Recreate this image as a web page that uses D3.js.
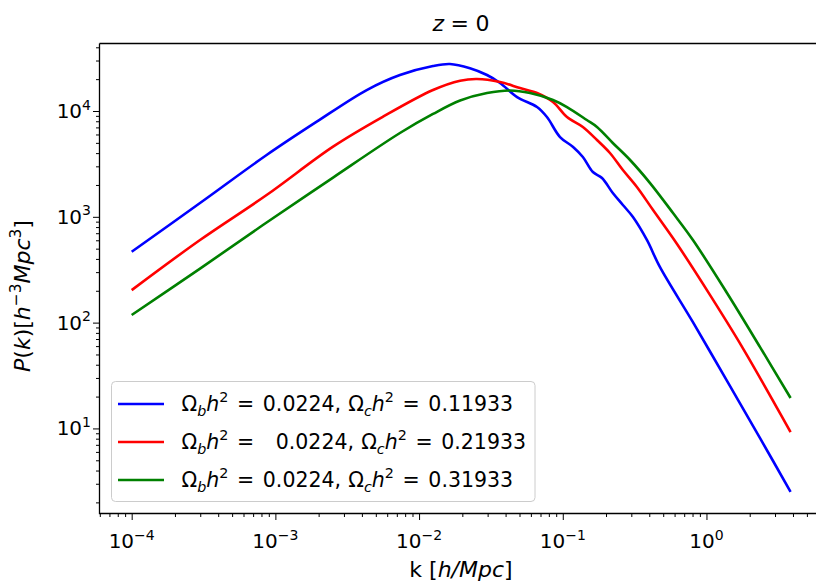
<!DOCTYPE html>
<html>
<head>
<meta charset="utf-8">
<script src="https://cdn.jsdelivr.net/npm/d3@7"></script>
<style>
    body { margin: 0; background: #fff; }
    svg { display: block; font-family: "DejaVu Sans", sans-serif; }
    .axis path { display: none; }
    .axis line { stroke: #000; stroke-width: 1; }
    .line { fill: none; stroke-width: 2.6; }
</style>
</head>
<body>
<div id="vis-container"></div>
<script>
// Values (k in h/Mpc, P in h^-3 Mpc^3)
var kBlue = [1.0e-4, 2.99e-4, 8.69e-4, 1.94e-3, 4.32e-3, 7.36e-3, 0.0125, 0.0164, 0.0226, 0.0297, 0.0366, 0.0481,
    0.0662, 0.0776, 0.0957, 0.118, 0.138, 0.162, 0.1875, 0.223, 0.262, 0.308, 0.385, 0.474, 0.805, 1.39, 2.36, 3.85];
var pBlue = [468, 1349, 3837, 7925, 15780, 21890, 26600, 27800, 25350, 21880, 18410, 13550,
    10910, 8770, 5675, 4571, 3673, 2649, 2328, 1679, 1294, 995, 604, 336, 101, 28.1, 8.1, 2.51];

var kRed = [1.0e-4, 2.99e-4, 8.69e-4, 2.52e-3, 5.61e-3, 0.0125, 0.0193, 0.0253, 0.0366, 0.0504, 0.0662, 0.0855,
    0.107, 0.138, 0.173, 0.213, 0.262, 0.328, 0.425, 0.624, 1.06, 1.79, 3.85];
var pRed = [203, 604, 1607, 4603, 8831, 15780, 19320, 20050, 18790, 16480, 14790, 12160,
    8770, 7063, 5321, 4009, 2767, 1914, 1159, 553, 182, 57.5, 9.25];

var kGreen = [1.0e-4, 2.99e-4, 8.69e-4, 2.52e-3, 7.36e-3, 0.0125, 0.0193, 0.0297, 0.0430, 0.0592, 0.0855, 0.107,
    0.147, 0.173, 0.223, 0.294, 0.405, 0.585, 0.805, 1.39, 2.36, 3.85];
var pGreen = [118, 324, 883, 2350, 6194, 9380, 12570, 14790, 15630, 14790, 12710, 10910,
    8222, 7063, 4989, 3443, 2084, 1086, 604, 190.5, 58.7, 19.4];

var seriesColors = ["blue", "red", "green"];
var omegaC = ["0.11933", "0.21933", "0.31933"];
var omegaB = ["0.0224", "0.0224", "0.0224"];
var omegaBGap = [0.42, 1.05, 0.42];   // second entry has extra spaces after "="

var xTickExps = [-4, -3, -2, -1, 0];
var yTickExps = [1, 2, 3, 4];

var width = 816;
var height = 582;
var tickFont = 20;
var legendFont = 20.5;
var labelFont = 22;

var svg = d3.select("#vis-container").append("svg").attr("width", width).attr("height", height);

// log scales, pixel range taken from the reference axes box
var x = d3.scaleLog().domain([Math.pow(10, -4.224), Math.pow(10, 0.818)]).range([99.5, 824]);
var y = d3.scaleLog().domain([Math.pow(10, 0.196), Math.pow(10, 4.638)]).range([513.5, 43.5]);

// write matplotlib-like mathtext with tspans: [text, italic, "sup"/"sub", dx in em]
function addMath(textSel, parts, size) {
    var cur = 0;
    parts.forEach(function (p) {
        var off = p[2] === "sup" ? -0.42 * size : (p[2] === "sub" ? 0.22 * size : 0);
        var ts = textSel.append("tspan").text(p[0]).attr("dy", off - cur);
        if (p[1]) ts.attr("font-style", "italic");
        if (p[2]) ts.attr("font-size", size * 0.7);
        if (p[3]) ts.attr("dx", p[3] * size);
        cur = off;
    });
}

function minorTicks(lo, hi, scale) {
    var out = [];
    var d = scale.domain();
    for (var e = lo; e <= hi; e++) {
        for (var m = 2; m <= 9; m++) {
            var v = m * Math.pow(10, e);
            if (v >= d[0] && v <= d[1]) out.push(v);
        }
    }
    return out;
}

var xMajor = xTickExps.map(function (e) { return Math.pow(10, e); });
var yMajor = yTickExps.map(function (e) { return Math.pow(10, e); });

// axes ticks
svg.append("g").attr("class", "axis").attr("transform", "translate(0,513.5)")
    .call(d3.axisBottom(x).tickValues(minorTicks(-5, 0, x)).tickSize(3.5).tickFormat(""));
svg.append("g").attr("class", "axis").attr("transform", "translate(0,513.5)")
    .call(d3.axisBottom(x).tickValues(xMajor).tickSize(6.5).tickFormat(""));
svg.append("g").attr("class", "axis").attr("transform", "translate(99.5,0)")
    .call(d3.axisLeft(y).tickValues(minorTicks(0, 4, y)).tickSize(3.5).tickFormat(""));
svg.append("g").attr("class", "axis").attr("transform", "translate(99.5,0)")
    .call(d3.axisLeft(y).tickValues(yMajor).tickSize(6.5).tickFormat(""));

// tick labels
xTickExps.forEach(function (e) {
    var t = svg.append("text").attr("x", x(Math.pow(10, e))).attr("y", 548)
        .attr("text-anchor", "middle").attr("font-size", tickFont);
    addMath(t, [["10", false], [e < 0 ? "\u2212" + (-e) : String(e), false, "sup"]], tickFont);
});
yTickExps.forEach(function (e) {
    var t = svg.append("text").attr("x", 91).attr("y", y(Math.pow(10, e)) + 7)
        .attr("text-anchor", "end").attr("font-size", tickFont);
    addMath(t, [["10", false], [String(e), false, "sup"]], tickFont);
});

// the three lines
var line = d3.line()
    .x(function (d) { return x(d.k); })
    .y(function (d) { return y(d.p); })
    .curve(d3.curveCatmullRom.alpha(0.5));

var series = [
    kBlue.map(function (k, i) { return {k: k, p: pBlue[i]}; }),
    kRed.map(function (k, i) { return {k: k, p: pRed[i]}; }),
    kGreen.map(function (k, i) { return {k: k, p: pGreen[i]}; })
];
series.forEach(function (s, i) {
    svg.append("path").datum(s).attr("class", "line").attr("stroke", seriesColors[i]).attr("d", line);
});

// spines (left, bottom, top; right one is outside the picture)
svg.append("path").attr("d", "M99.5,43.5V513.5H824M99.5,43.5H824")
    .attr("fill", "none").attr("stroke", "#000").attr("stroke-width", 1.3);

// legend
var legend = svg.append("g");
legend.append("rect").attr("x", 111.5).attr("y", 381.5).attr("width", 423.5).attr("height", 120)
    .attr("rx", 4).attr("fill", "#fff").attr("fill-opacity", 0.8).attr("stroke", "#cccccc");
seriesColors.forEach(function (c, i) {
    var ly = 404 + i * 38;
    legend.append("line").attr("x1", 118).attr("x2", 164).attr("y1", ly).attr("y2", ly)
        .attr("stroke", c).attr("stroke-width", 2.6);
    var t = legend.append("text").attr("x", 181.5).attr("y", ly + 7).attr("font-size", legendFont);
    addMath(t, [["\u03a9", false], ["b", true, "sub"], ["h", true], ["2", false, "sup"],
        ["=", false, null, 0.42], [omegaB[i] + ",", false, null, omegaBGap[i]],
        ["\u03a9", false, null, 0.35], ["c", true, "sub"], ["h", true], ["2", false, "sup"],
        ["=", false, null, 0.42], [omegaC[i], false, null, 0.42]], legendFont);
});

// title and axis labels
var title = svg.append("text").attr("x", 461).attr("y", 31).attr("text-anchor", "middle").attr("font-size", labelFont);
addMath(title, [["z", true], ["=", false, null, 0.3], ["0", false, null, 0.3]], labelFont);

var xLabel = svg.append("text").attr("x", 461).attr("y", 577).attr("text-anchor", "middle").attr("font-size", labelFont);
addMath(xLabel, [["k [", false], ["h/Mpc", true], ["]", false]], labelFont);

var yLabel = svg.append("text").attr("transform", "translate(30,296) rotate(-90)")
    .attr("text-anchor", "middle").attr("font-size", labelFont);
addMath(yLabel, [["P", true], ["(", false], ["k", true], [")[", false], ["h", true], ["\u22123", false, "sup"],
    ["Mpc", true], ["3", false, "sup"], ["]", false]], labelFont);
</script>
</body>
</html>
